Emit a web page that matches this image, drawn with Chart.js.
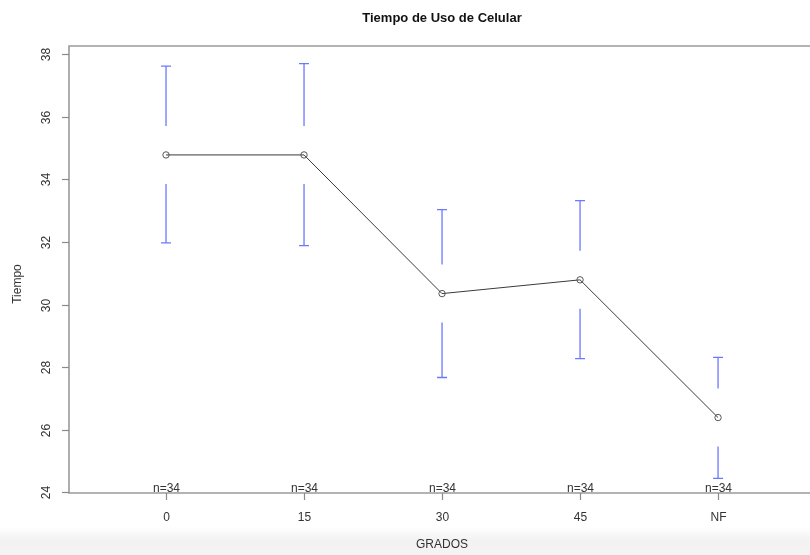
<!DOCTYPE html>
<html>
<head>
<meta charset="utf-8">
<script src="https://cdn.jsdelivr.net/npm/chart.js@4"></script>
<style>
  html, body { margin: 0; padding: 0; background: #fff; overflow: hidden; }
  #wrap { width: 810px; height: 555px; position: relative;
          background: linear-gradient(to bottom, #fff 0px, #fff 527px, #f2f2f2 540px, #f4f4f4 555px); }
</style>
</head>
<body>
<div id="wrap"><canvas id="chart" width="810" height="555"></canvas></div>
<script>
// data
const grados = ["0", "15", "30", "45", "NF"];
const medias = [34.78, 34.78, 30.35, 30.79, 26.39];
const superior = [37.62, 37.70, 33.03, 33.32, 28.31];
const inferior = [31.97, 31.88, 27.67, 28.27, 24.45];
const nObs = [34, 34, 34, 34, 34];
const yTicks = [24, 26, 28, 30, 32, 34, 36, 38];

const FONT = "'Liberation Sans', Arial, sans-serif";

// error bars, box, axes and text in the R style
const rPlot = {
  id: "rPlot",
  beforeDatasetsDraw(chart) {
    const { ctx, chartArea: a, scales: { x, y } } = chart;
    ctx.save();
    // error bars with a gap round the mean
    ctx.strokeStyle = "#6b79ff";
    ctx.lineWidth = 1.3;
    const gap = 29;
    grados.forEach((g, i) => {
      const px = x.getPixelForValue(i + 1);
      const pm = y.getPixelForValue(medias[i]);
      const pu = y.getPixelForValue(superior[i]);
      const pl = y.getPixelForValue(inferior[i]);
      ctx.beginPath();
      ctx.moveTo(px, pu); ctx.lineTo(px, pm - gap);
      ctx.moveTo(px, pm + gap); ctx.lineTo(px, pl);
      ctx.moveTo(px - 5, pu); ctx.lineTo(px + 5, pu);
      ctx.moveTo(px - 5, pl); ctx.lineTo(px + 5, pl);
      ctx.stroke();
    });
    ctx.restore();
  },
  afterDraw(chart) {
    const { ctx, chartArea: a, scales: { x, y } } = chart;
    ctx.save();
    // box (right edge cut off)
    ctx.strokeStyle = "#9a9a9a";
    ctx.lineWidth = 1.6;
    ctx.beginPath();
    ctx.moveTo(chart.width, a.top);
    ctx.lineTo(a.left, a.top);
    ctx.lineTo(a.left, a.bottom);
    ctx.lineTo(chart.width, a.bottom);
    ctx.stroke();

    ctx.strokeStyle = "#8a8a8a";
    ctx.lineWidth = 1.2;
    ctx.fillStyle = "#333";
    ctx.font = "12px " + FONT;
    // y ticks + rotated labels
    yTicks.forEach(t => {
      const py = Math.round(y.getPixelForValue(t)) + 0.5;
      ctx.beginPath();
      ctx.moveTo(a.left - 7, py); ctx.lineTo(a.left, py);
      ctx.stroke();
      ctx.save();
      ctx.translate(47, py);
      ctx.rotate(-Math.PI / 2);
      ctx.textAlign = "center";
      ctx.textBaseline = "middle";
      ctx.fillText(String(t), 0, 0);
      ctx.restore();
    });
    // x ticks + labels + n labels
    grados.forEach((g, i) => {
      const px = Math.round(x.getPixelForValue(i + 1)) + 0.5;
      ctx.beginPath();
      ctx.moveTo(px, a.bottom); ctx.lineTo(px, a.bottom + 7);
      ctx.stroke();
      ctx.textAlign = "center";
      ctx.textBaseline = "middle";
      ctx.fillText(g, px, 518);
      ctx.fillText("n=" + nObs[i], px, 488.5);
    });
    // axis titles
    ctx.fillText("GRADOS", 442, 545);
    ctx.save();
    ctx.translate(18, 284);
    ctx.rotate(-Math.PI / 2);
    ctx.fillText("Tiempo", 0, 0);
    ctx.restore();
    // title
    ctx.fillStyle = "#111";
    ctx.font = "bold 13px " + FONT;
    ctx.fillText("Tiempo de Uso de Celular", 442, 18);
    ctx.restore();
  }
};

const ctx = document.getElementById("chart").getContext("2d");
new Chart(ctx, {
  type: "scatter",
  data: {
    datasets: [{
      data: medias.map((m, i) => ({ x: i + 1, y: m })),
      showLine: true,
      borderColor: "#3a3a3a",
      borderWidth: 1,
      pointRadius: 3.2,
      pointBorderWidth: 1,
      pointBorderColor: "#555",
      pointBackgroundColor: "rgba(255,255,255,0)",
      tension: 0
    }]
  },
  options: {
    responsive: false,
    animation: false,
    events: [],
    layout: { padding: { left: 69, top: 46, bottom: 62, right: 0 } },
    plugins: { legend: { display: false }, tooltip: { enabled: false }, title: { display: false } },
    scales: {
      x: { type: "linear", min: 0.297, max: 5.63, display: false },
      y: { type: "linear", min: 23.98, max: 38.26, display: false }
    }
  },
  plugins: [rPlot]
});
</script>
</body>
</html>
